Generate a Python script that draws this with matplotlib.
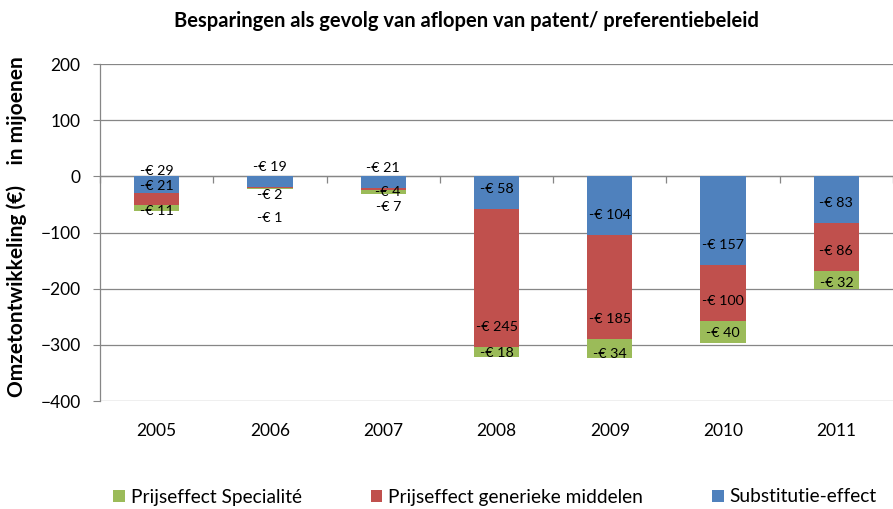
import matplotlib
matplotlib.use("Agg")
import matplotlib.pyplot as plt
import numpy as np

plt.rcParams["font.family"] = ["Lato", "DejaVu Sans"]

years = ["2005", "2006", "2007", "2008", "2009", "2010", "2011"]
# savings in millions of euros, per effect
substitutie = [-29, -19, -21, -58, -104, -157, -83]
generiek = [-21, -2, -4, -245, -185, -100, -86]
specialite = [-11, -1, -7, -18, -34, -40, -32]

BLUE = "#4F81BD"
RED = "#C0504D"
GREEN = "#9BBB59"
GRID = "#868686"

# label placement: pixels above the lower end of each segment
LABEL_DY = {
    "blue": [22, 20, 20, 20, 20, 20, 20],
    "red": [19, -7, -2, 20, 20, 20, 20],
    "green": [0, -29, -13, 4, 4, 10, 6],
}
LABEL_DX = {
    "blue": [0, 0, 0, 0, 0, 0, 0],
    "red": [0, 0, 5, 0, 0, 0, 0],
    "green": [0, 0, 5, 0, 0, 0, 0],
}


def main():
    x = np.arange(len(years))
    sub = np.array(substitutie)
    gen = np.array(generiek)
    spec = np.array(specialite)

    fig = plt.figure(figsize=(8.93, 5.09), dpi=100)
    ax = fig.add_axes([0.112, 0.212, 0.888, 0.662])

    width = 0.4
    ax.bar(x, spec, width, bottom=sub + gen, color=GREEN, label="Prijseffect Specialité", zorder=3)
    ax.bar(x, gen, width, bottom=sub, color=RED, label="Prijseffect generieke middelen", zorder=3)
    ax.bar(x, sub, width, color=BLUE, label="Substitutie-effect", zorder=3)

    segments = [
        ("blue", sub, sub),
        ("red", gen, sub + gen),
        ("green", spec, sub + gen + spec),
    ]
    for key, vals, lows in segments:
        for i, (v, lo) in enumerate(zip(vals, lows)):
            ax.annotate(f"-€ {abs(v)}", xy=(x[i], lo),
                        xytext=(LABEL_DX[key][i], LABEL_DY[key][i]),
                        textcoords="offset pixels", ha="center", va="center",
                        fontsize=10.3, color="black", zorder=5)

    ax.set_xlim(-0.5, len(years) - 0.5)
    ax.set_ylim(-400, 200)
    ax.set_yticks(np.arange(-400, 201, 100))
    ax.yaxis.grid(True, color=GRID, lw=0.9, zorder=0)
    ax.set_axisbelow(True)

    for side in ("top", "right", "bottom"):
        ax.spines[side].set_visible(False)
    ax.spines["left"].set_color(GRID)
    ax.spines["left"].set_linewidth(0.9)
    ax.tick_params(axis="y", direction="out", length=5, color=GRID,
                   labelsize=12.5, pad=9)

    ax.set_xticks(x)
    ax.set_xticklabels(years)
    ax.tick_params(axis="x", length=0, labelsize=12.5, pad=16)

    # category axis crossing at zero, with boundary ticks
    zero_ax = ax.secondary_xaxis(0, transform=ax.transData)
    zero_ax.set_xticks(np.arange(len(years) + 1) - 0.5)
    zero_ax.tick_params(axis="x", direction="out", length=5, color=GRID,
                        labelbottom=False, width=0.9)
    zero_ax.spines["bottom"].set_color(GRID)
    zero_ax.spines["bottom"].set_linewidth(0.9)

    fig.text(17 / 893, 1 - 227 / 509, "Omzetontwikkeling (€)    in mijoenen",
             rotation=90, ha="center", va="center",
             fontsize=15, fontweight="bold")

    fig.suptitle("Besparingen als gevolg van aflopen van patent/ preferentiebeleid",
                 x=0.522, y=0.978, fontsize=14.5, fontweight="bold")

    fig.legend(loc="center left", bbox_to_anchor=(0.1265, 1 - 497 / 509), ncol=3,
               frameon=False, fontsize=13.8, borderpad=0, borderaxespad=0,
               handlelength=0.62, handleheight=0.62, handletextpad=0.3,
               columnspacing=3.6)

    fig.savefig("out.png", dpi=100)
    plt.close(fig)


if __name__ == "__main__":
    main()
